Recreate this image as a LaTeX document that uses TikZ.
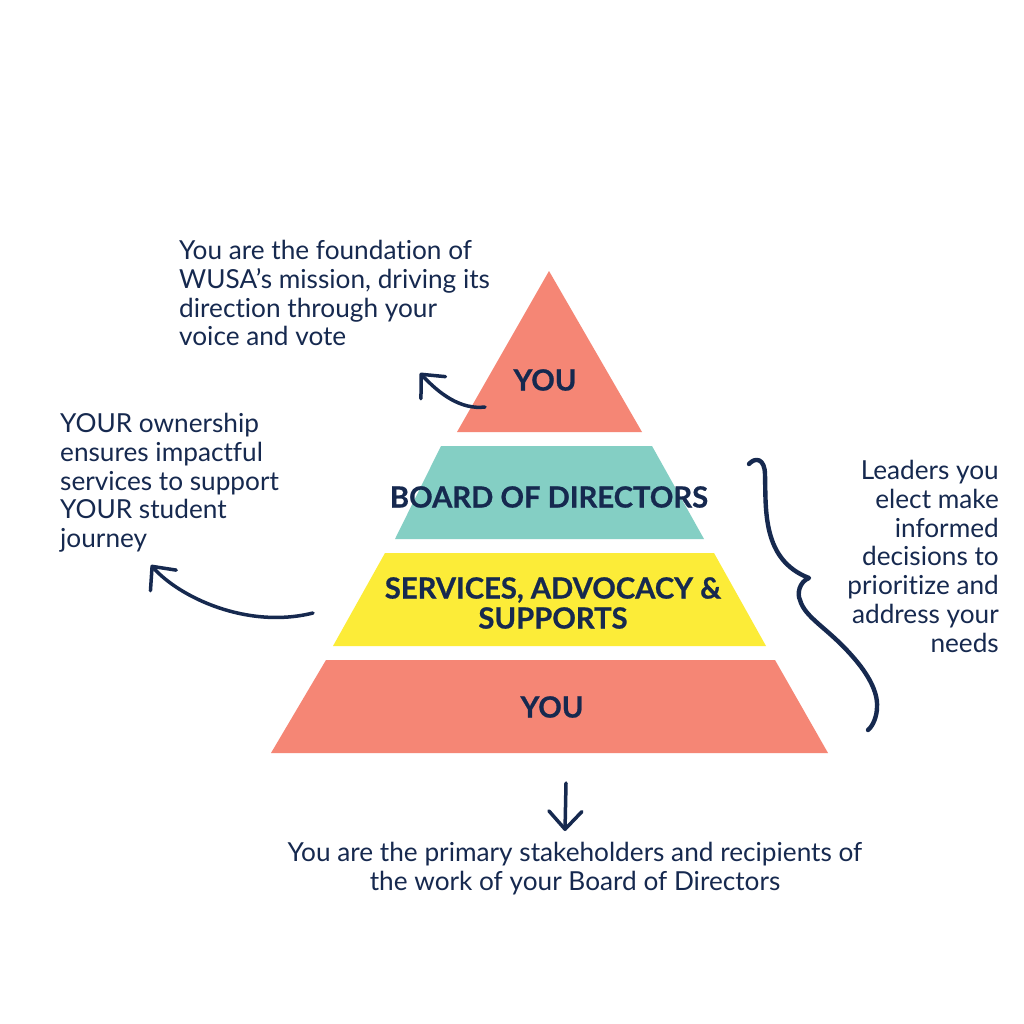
\documentclass[tikz,border=0pt]{standalone}
\usepackage{fontspec}
\setmainfont{Lato}[Ligatures=NoCommon,BoldFeatures={FakeBold=0.7}]
\usetikzlibrary{arrows.meta,bending}
\definecolor{navy}{HTML}{16294F}
\definecolor{salmon}{HTML}{F58675}
\definecolor{teal2}{HTML}{84CFC4}
\definecolor{sun}{HTML}{FCEC38}
\tikzset{
  >={Straight Barb[length=18pt,width=33pt,round,line width=3.5pt]},
}
\tikzstyle{every node}=[text=navy,inner sep=0pt]
\tikzstyle{body}=[font=\fontsize{26.2}{28.8}\selectfont]
\tikzstyle{tierlabel}=[font=\fontsize{29.2}{30}\selectfont\bfseries,align=center]
\tikzstyle{hand}=[navy,line width=3.5pt,line cap=round,line join=round]
\begin{document}
\begin{tikzpicture}[x=1pt,y=-1pt]
    \useasboundingbox (0,0) rectangle (1024,1024);
    \fill[white] (0,0) rectangle (1024,1024);

    \fill[salmon] (549,271)--(642,432)--(457,432)--cycle;
    \fill[teal2] (441,446)--(652,446)--(704,539)--(395,539)--cycle;
    \fill[sun] (385,553)--(714,553)--(766,646)--(333,646)--cycle;
    \fill[salmon] (326,660)--(775,660)--(828,753)--(271,753)--cycle;

    \node[tierlabel] (youtop) at (545,380) {YOU};
    \node[tierlabel] (board) at (549,497) {BOARD OF DIRECTORS};
    \node[tierlabel] (services) at (553,603) {SERVICES, ADVOCACY \&\\SUPPORTS};
    \node[tierlabel] (youbase) at (552,707) {YOU};

    \node[body,anchor=north west,align=left] (foundation) at (179,240)
    {You are the foundation of\\WUSA’s mission, driving its\\direction through your\\voice and vote};
    \node[body,anchor=north west,align=left] (ownership) at (60,413)
    {YOUR ownership\\ensures impactful\\services to support\\YOUR student\\journey};
    \node[body,anchor=north east,align=right] (leaders) at (999,460)
    {Leaders you\\elect make\\informed\\decisions to\\prioritize and\\address your\\needs};
    \node[body,anchor=north,align=center] (primary) at (575,842)
    {You are the primary stakeholders and recipients of\\the work of your Board of Directors};

    \coordinate (topstart) at (485,407);
    \coordinate (toptip) at (420,373);
    \coordinate (sidestart) at (313,613);
    \coordinate (sidetip) at (151,565);
    \coordinate (downstart) at (566,783);
    \coordinate (downtip) at (565,831);
    \coordinate (bracestart) at (749,464);
    \coordinate (bracepeak) at (809,578);
    \coordinate (braceend) at (868,730);

    \draw[hand,->] (topstart) .. controls (460,410) and (438,393) .. (toptip);
    \draw[hand,->] (sidestart) .. controls (245,630) and (175,595) .. (sidetip);
    \draw[hand,->] (downstart)--(downtip);
    \draw[hand,line width=4.4pt] (bracestart) .. controls (755,457) and (765,458) .. (765,475)
    .. controls (766,510) and (762,560) .. (bracepeak)
    .. controls (799,582) and (797,594) .. (800,600)
    .. controls (805,618) and (828,628) .. (853,657)
    .. controls (868,674) and (878,692) .. (877,707)
    .. controls (877,716) and (873,726) .. (braceend);
\end{tikzpicture}
\end{document}
